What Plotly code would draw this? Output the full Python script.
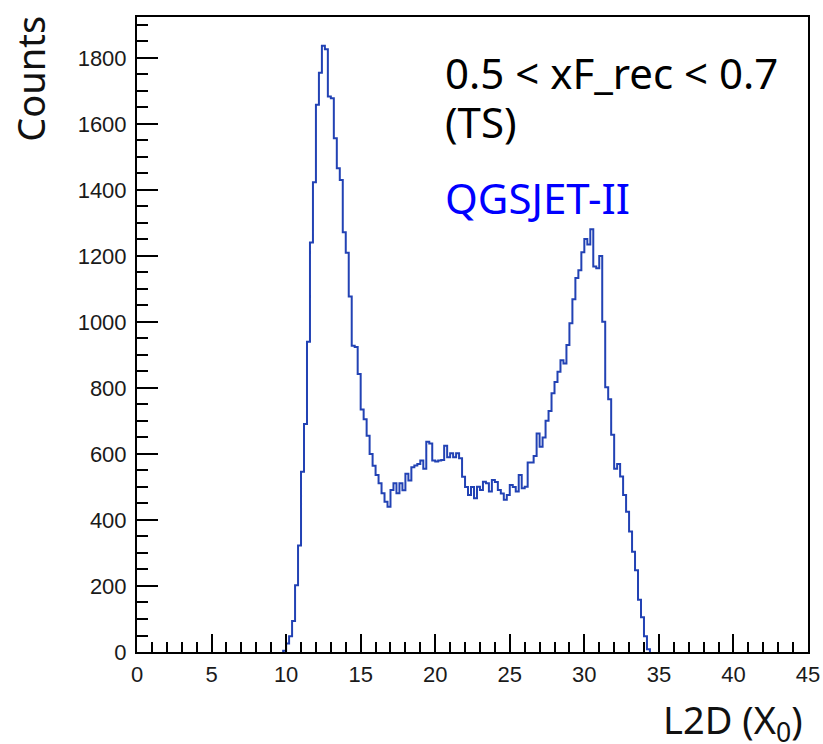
import numpy as np
import plotly.graph_objects as go

# ---- data ----
BIN_START = 9.8
BIN_WIDTH = 0.2
counts = [
    4, 26, 48, 94, 202, 323, 546, 691, 940, 1241,
    1423, 1658, 1755, 1837, 1826, 1683, 1678, 1557, 1466, 1430,
    1272, 1210, 1077, 928, 924, 842, 735, 705, 655, 600,
    564, 536, 511, 481, 455, 440, 491, 511, 481, 511,
    490, 540, 520, 560, 565, 570, 580, 555, 637, 632,
    580, 577, 580, 582, 625, 590, 602, 590, 602, 587,
    531, 500, 476, 500, 466, 501, 491, 516, 511, 486,
    521, 515, 491, 480, 461, 476, 506, 500, 486, 536,
    496, 501, 574, 574, 594, 662, 622, 650, 701, 730,
    784, 818, 849, 884, 874, 930, 996, 1069, 1133, 1157,
    1211, 1251, 1235, 1281, 1168, 1163, 1200, 1001, 802, 766,
    658, 555, 570, 532, 476, 425, 365, 304, 248, 158,
    105, 48, 8,
]
x_ticks = [0, 5, 10, 15, 20, 25, 30, 35, 40, 45]
y_ticks = [0, 200, 400, 600, 800, 1000, 1200, 1400, 1600, 1800]
x_title = "L2D (X<sub>0</sub>)"
y_title = "Counts"
label_line1 = "0.5 < xF_rec < 0.7"
label_line2 = "(TS)"
label_model = "QGSJET-II"

# ---- build step outline ----
edges = BIN_START + BIN_WIDTH * np.arange(len(counts) + 1)
xs = np.concatenate([[edges[0]], edges])
ys = np.concatenate([[0], counts, [0]])

fig = go.Figure()
fig.add_trace(go.Scatter(
    x=xs, y=ys, mode="lines", line=dict(shape="hv", color="#2242b4", width=2),
    showlegend=False, hoverinfo="skip",
))

tick_font = dict(family="Liberation Sans, Arial, sans-serif", size=22, color="#1a1a1a")
title_font = dict(family="Noto Sans, sans-serif", size=38, color="#111111")
label_font = dict(family="Noto Sans, sans-serif", size=42, color="black")

fig.update_xaxes(
    range=[0, 45], tickvals=x_ticks, ticktext=[str(v) for v in x_ticks],
    ticks="inside", ticklen=18, tickwidth=1.5, tickcolor="black",
    minor=dict(ticks="inside", ticklen=10, dtick=1, tickcolor="black", tickwidth=1.5, showgrid=False),
    showline=True, linecolor="black", linewidth=2, mirror=True, automargin=False,
    showgrid=False, zeroline=False, tickfont=tick_font, ticklabelstandoff=2,
)
fig.update_yaxes(
    range=[0, 1924], tickvals=y_ticks, ticktext=[str(v) for v in y_ticks],
    ticks="inside", ticklen=21, tickwidth=1.5, tickcolor="black",
    minor=dict(ticks="inside", ticklen=11, dtick=50, tickcolor="black", tickwidth=1.5, showgrid=False),
    showline=True, linecolor="black", linewidth=2, mirror=True, automargin=False,
    showgrid=False, zeroline=False, tickfont=tick_font, ticklabelstandoff=4,
)

annots = [
    dict(text=y_title, x=-0.1595, y=1.005, xref="paper", yref="paper", textangle=-90,
         xanchor="center", yanchor="top", showarrow=False, font=title_font),
    dict(text=x_title, x=0.995, y=-0.110, xref="paper", yref="paper",
         xanchor="right", yanchor="middle", showarrow=False, font=title_font),
    dict(text=label_line1, x=0.456, y=0.912, xref="paper", yref="paper",
         xanchor="left", yanchor="middle", showarrow=False, font=label_font),
    dict(text=label_line2, x=0.456, y=0.836, xref="paper", yref="paper",
         xanchor="left", yanchor="middle", showarrow=False, font=label_font),
    dict(text=label_model, x=0.456, y=0.7165, xref="paper", yref="paper",
         xanchor="left", yanchor="middle", showarrow=False,
         font=dict(family="Noto Sans, sans-serif", size=42, color="#0000ff")),
]

fig.update_layout(
    template="none",
    width=823, height=744,
    margin=dict(l=137, r=15, t=17, b=92, pad=0),
    paper_bgcolor="white", plot_bgcolor="white",
    annotations=annots,
)

fig.write_html("out.html")
